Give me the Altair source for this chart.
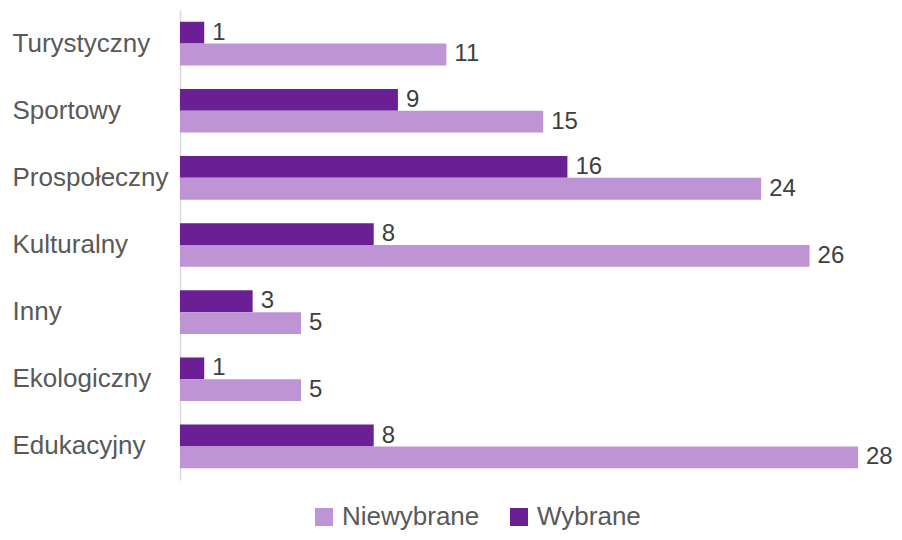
import altair as alt
import pandas as pd

categories = ["Turystyczny", "Sportowy", "Prospołeczny", "Kulturalny", "Inny", "Ekologiczny", "Edukacyjny"]
wybrane = [1, 9, 16, 8, 3, 1, 8]
niewybrane = [11, 15, 24, 26, 5, 5, 28]
series_names = ["Niewybrane", "Wybrane"]
colors = ["#BF94D4", "#6B1F94"]

rows = []
for c, w, n in zip(categories, wybrane, niewybrane):
    rows.append({"kategoria": c, "seria": "Wybrane", "wartosc": w})
    rows.append({"kategoria": c, "seria": "Niewybrane", "wartosc": n})
df = pd.DataFrame(rows)

FONT = "Liberation Sans"

y_enc = alt.Y(
    "kategoria:N",
    sort=categories,
    scale=alt.Scale(paddingInner=0.35, paddingOuter=0.175),
    axis=alt.Axis(
        title=None,
        ticks=False,
        domainColor="#D9D9D9",
        domainWidth=1.5,
        labelAlign="left",
        labelBaseline="middle",
        labelPadding=168,
        labelFontSize=26,
        labelColor="#595959",
        labelFont=FONT,
        labelLimit=300,
    ),
)
yoff = alt.YOffset("seria:N", sort=["Wybrane", "Niewybrane"])
x_enc = alt.X("wartosc:Q", scale=alt.Scale(domain=[0, 28], nice=False), axis=None)

bars = alt.Chart(df).mark_bar().encode(
    y=y_enc,
    yOffset=yoff,
    x=x_enc,
    color=alt.Color(
        "seria:N",
        scale=alt.Scale(domain=series_names, range=colors),
        legend=alt.Legend(
            title=None,
            orient="none",
            direction="horizontal",
            legendX=131,
            legendY=494,
            symbolType="square",
            symbolSize=324,
            symbolStrokeWidth=0,
            labelFontSize=26,
            labelColor="#595959",
            labelFont=FONT,
            labelOffset=5,
            columnPadding=26,
            padding=0,
        ),
    ),
)

labels = alt.Chart(df).mark_text(
    align="left", baseline="middle", dx=8, fontSize=24, color="#404040", font=FONT
).encode(
    y=alt.Y("kategoria:N", sort=categories),
    yOffset=yoff,
    x=x_enc,
    text="wartosc:Q",
)

chart = (
    alt.layer(bars, labels)
    .properties(
        width=678,
        height=470,
        padding={"left": 172, "top": 2, "right": 36, "bottom": 52},
        autosize=alt.AutoSizeParams(type="none"),
    )
    .configure_view(stroke=None)
)

chart.save("out.html", embed_options={"renderer": "svg", "actions": False})
